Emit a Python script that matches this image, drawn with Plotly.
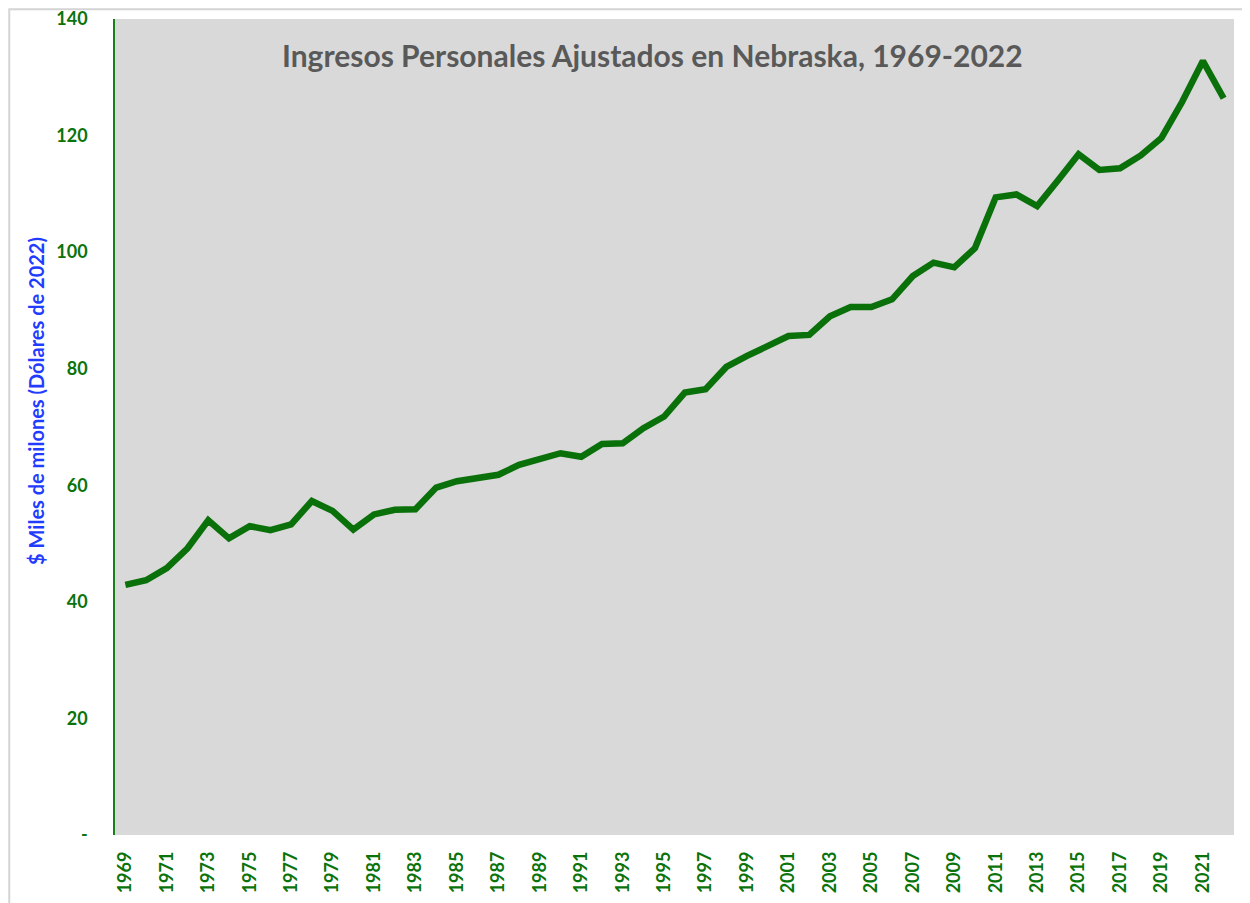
import plotly.graph_objects as go

years = list(range(1969, 2023))
income = [42.9, 43.7, 45.8, 49.2, 54.0, 50.9, 53.0, 52.3, 53.3, 57.3,
          55.6, 52.4, 55.0, 55.8, 55.9, 59.6, 60.7, 61.3, 61.8, 63.5,
          64.4, 65.5, 64.9, 67.1, 67.2, 69.8, 71.8, 75.9, 76.5, 80.3,
          82.2, 83.9, 85.6, 85.8, 89.0, 90.6, 90.6, 91.9, 95.9, 98.2,
          97.4, 100.7, 109.4, 109.9, 107.9, 112.3, 116.8, 114.1, 114.4, 116.6,
          119.6, 125.8, 132.8, 126.4]
x_ticks = list(range(1969, 2022, 2))
y_ticks = [0, 20, 40, 60, 80, 100, 120, 140]
y_ticktext = ["-", "20", "40", "60", "80", "100", "120", "140"]

title_text = "Ingresos Personales Ajustados en Nebraska, 1969-2022"
y_title = "$ Miles de milones (Dólares de 2022)"

green = "#0b730b"
font_family = "Lato, 'Open Sans', sans-serif"

fig = go.Figure()
fig.add_trace(go.Scatter(
    x=years, y=income, mode="lines",
    line=dict(color="#0a700a", width=6.5),
    hoverinfo="x+y",
))

fig.update_layout(
    width=1250, height=903,
    margin=dict(l=107, r=24, t=11, b=76),
    paper_bgcolor="white",
    plot_bgcolor="#d9d9d9",
    showlegend=False,
    font=dict(family=font_family),
    annotations=[
        dict(
            text="<b>" + title_text + "</b>",
            xref="paper", yref="paper", x=0.48, y=0.956,
            xanchor="center", yanchor="middle", showarrow=False,
            font=dict(size=30, color="#595959", family=font_family),
        ),
        dict(
            text="<b>" + y_title + "</b>",
            xref="paper", yref="paper", x=-0.0706, y=0.532,
            xanchor="center", yanchor="middle", showarrow=False,
            textangle=-90,
            font=dict(size=20, color="#1f3cff", family=font_family),
        ),
    ],
    shapes=[dict(
        type="rect", xref="paper", yref="paper",
        x0=-0.0945, x1=1.2, y0=-0.3, y1=1.012,
        line=dict(color="#d4d4d4", width=2), fillcolor="rgba(0,0,0,0)",
        layer="below",
    )],
)

fig.update_xaxes(
    range=[1968.5, 2022.5],
    tickmode="array", tickvals=x_ticks,
    ticktext=["<b>" + str(v) + "</b>" for v in x_ticks],
    tickangle=-90,
    tickfont=dict(size=18, color=green, family=font_family),
    showgrid=False, zeroline=False, showline=False,
    ticks="", ticklabelstandoff=12, automargin=False,
    ticklabeloverflow="allow",
)
fig.update_yaxes(
    range=[0, 140],
    tickmode="array", tickvals=y_ticks,
    ticktext=["<b>" + t + "</b>" for t in y_ticktext],
    tickfont=dict(size=18, color=green, family=font_family),
    showgrid=False, zeroline=False,
    showline=True, linecolor="#1a7f1a", linewidth=1.5,
    ticks="outside", ticklen=22, tickcolor="rgba(0,0,0,0)",
    automargin=False, ticklabeloverflow="allow",
)

fig.write_html("out.html")
